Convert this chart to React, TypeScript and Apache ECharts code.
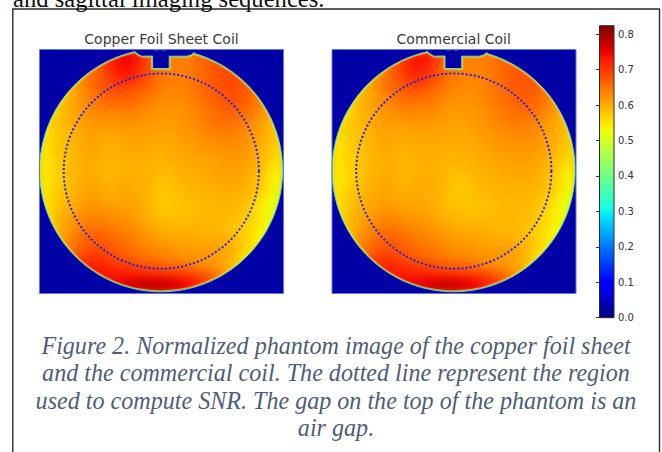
import React, { useEffect, useRef } from "react";
import * as echarts from "echarts";

// ---------- data ----------
const titles = ["Copper Foil Sheet Coil", "Commercial Coil"];
const captionLines = [
  "Figure 2. Normalized phantom image of the copper foil sheet",
  "and the commercial coil. The dotted line represent the region",
  "used to compute SNR. The gap on the top of the phantom is an",
  "air gap.",
];
const headerText = "and sagittal imaging sequences.";
const colorbarTicks = [0, 0.1, 0.2, 0.3, 0.4, 0.5, 0.6, 0.7, 0.8];
const colorbarMax = 0.8237;

// normalized signal, thousandths, rows from top, only the cells touching the phantom
const leftRows = [
  [700,730,750,740,700,660,640,640,640,640,650,660,670],
  [660,690,720,740,750,730,700,670,650,640,640,640,650,660,670,680,680],
  [600,630,655,680,710,730,735,720,695,670,650,640,640,640,650,660,670,680,685,680,670],
  [590,610,635,660,680,700,715,720,705,685,665,645,640,640,640,650,660,670,680,685,685,675,660],
  [580,595,615,640,660,675,685,690,690,680,670,655,640,635,635,640,650,660,670,680,685,685,675,660,640],
  [570,590,610,630,645,660,670,675,670,665,655,645,635,630,630,635,645,655,665,675,680,680,670,655,635],
  [560,580,600,615,630,640,650,655,655,655,650,640,630,625,625,625,630,640,650,660,670,675,675,665,650,630,610],
  [555,575,595,610,620,630,635,635,635,635,635,630,625,620,620,620,625,630,640,650,660,665,665,655,640,625,605],
  [550,570,585,595,605,615,620,620,620,625,625,625,620,615,615,615,620,625,630,640,650,655,655,650,640,625,610,595,575],
  [550,565,580,590,600,610,615,610,610,615,615,615,615,610,610,610,615,620,625,630,640,645,645,640,630,620,605,590,570],
  [545,565,580,590,595,605,610,605,600,605,610,610,610,605,605,605,610,615,620,625,630,635,635,630,625,615,600,585,565],
  [545,565,580,585,595,605,605,600,595,600,605,605,605,600,600,600,605,610,615,620,620,625,625,625,620,610,595,580,560],
  [545,565,575,585,595,600,605,595,590,595,600,600,600,600,595,600,600,605,610,610,615,615,620,620,615,605,590,575,555],
  [540,560,575,585,595,600,600,595,590,595,595,600,595,595,590,595,600,600,605,605,610,610,615,615,610,600,585,565,545],
  [540,560,575,585,590,600,600,595,590,595,595,595,595,590,585,590,595,595,600,600,605,610,610,610,605,595,580,555,535],
  [540,560,575,585,595,600,605,595,590,595,600,600,595,590,580,585,590,595,595,600,600,605,605,605,600,590,570,545,525],
  [540,560,575,585,595,605,610,600,595,600,600,600,595,585,575,580,585,590,595,595,595,600,600,600,595,585,570,550,525],
  [545,565,580,590,600,610,615,605,600,605,605,600,595,585,575,575,580,585,590,590,590,595,595,590,590,575,555,530,510],
  [545,565,585,595,605,615,620,615,610,610,610,605,595,585,575,575,580,585,585,590,590,590,590,590,580,565,545,520,505],
  [545,570,590,605,615,625,630,625,620,620,615,610,600,590,580,580,580,585,585,590,590,590,590,585,575,560,540,520,505],
  [550,575,600,615,625,640,645,640,630,630,625,615,605,595,590,585,585,585,590,590,590,590,585,580,575,560,545,525,510],
  [570,595,615,635,650,655,655,650,640,635,625,615,605,600,595,595,595,595,590,590,590,585,575,565,550,530,515],
  [585,610,630,650,665,670,670,660,650,645,635,625,620,610,605,605,605,600,600,600,595,590,580,570,550,535,520],
  [610,635,655,670,680,680,675,665,655,645,635,630,625,620,615,610,610,610,610,605,600,590,565,545,530],
  [630,655,680,695,700,695,685,675,665,655,650,640,635,630,625,620,620,620,615,610,600,580,555,540,530],
  [675,700,715,720,715,705,695,690,680,675,670,665,655,650,640,630,620,615,610,595,575,555,545],
  [715,730,735,730,725,720,720,715,710,705,700,695,690,685,675,665,650,630,605,580,560],
  [730,740,745,745,750,755,760,760,760,755,745,735,720,700,680,650,620],
  [750,760,770,775,780,780,775,770,760,745,725,700,680],
];
const rightRows = [
  [690,715,735,730,695,660,640,635,635,635,640,650,660],
  [650,680,705,725,735,720,695,665,645,635,635,635,640,650,660,665,665],
  [590,620,645,670,700,720,725,710,685,660,645,635,635,635,640,650,660,670,675,670,660],
  [585,600,625,650,670,690,705,710,695,675,655,640,635,635,635,640,650,660,670,675,675,665,650],
  [575,590,605,630,655,665,675,685,685,675,660,645,635,630,630,635,640,650,660,670,675,675,665,650,630],
  [565,585,600,620,635,650,660,665,660,655,645,635,630,625,625,630,635,645,655,665,670,670,660,645,625],
  [555,575,595,610,620,630,640,645,645,645,640,635,625,620,620,620,625,635,645,650,660,665,665,655,640,625,600],
  [550,570,590,600,610,620,625,630,630,630,630,625,620,615,615,615,620,625,635,640,650,655,655,645,630,615,600],
  [550,565,580,590,600,610,615,615,615,620,620,620,615,610,610,610,615,620,625,635,640,645,645,640,630,620,605,590,575],
  [550,565,575,585,595,605,610,610,605,610,610,610,610,610,605,605,610,615,620,625,630,635,635,635,625,615,600,590,570],
  [545,565,575,585,590,600,605,605,600,605,605,605,605,605,600,600,605,610,615,620,625,625,630,630,620,610,600,585,565],
  [545,560,575,585,590,600,605,600,595,600,600,600,600,600,600,600,600,605,610,615,615,620,620,620,615,605,595,580,565],
  [540,560,570,580,590,595,600,595,590,595,600,600,600,595,595,595,600,600,605,610,610,615,615,615,610,600,590,575,555],
  [540,560,570,580,590,595,600,595,590,595,595,600,595,595,590,590,595,600,600,605,605,610,610,610,605,595,580,565,545],
  [540,555,570,580,590,595,600,595,590,595,595,595,595,590,585,585,590,595,595,600,600,605,605,605,600,590,575,555,535],
  [535,555,570,580,590,600,605,595,590,595,600,600,595,590,580,580,585,590,595,595,600,600,600,600,595,585,570,545,525],
  [540,560,575,585,595,600,605,600,595,600,600,600,595,585,575,575,580,590,590,595,595,595,595,595,590,585,570,550,525],
  [545,565,580,590,600,605,610,605,600,600,600,600,595,585,580,575,580,585,585,590,590,590,590,590,585,575,555,530,510],
  [545,565,585,595,605,610,615,610,605,605,605,600,595,590,580,580,580,580,585,585,590,590,590,585,580,565,545,520,505],
  [550,570,590,600,610,620,625,620,615,615,610,605,600,590,585,585,585,585,585,590,590,590,585,585,575,560,540,520,510],
  [555,575,595,610,620,630,640,635,625,625,620,615,605,600,595,590,590,590,590,590,590,590,585,580,575,560,545,525,510],
  [565,590,615,630,645,650,650,645,635,630,625,615,610,605,600,600,600,595,590,590,590,585,575,565,550,530,515],
  [585,610,630,645,660,665,665,655,650,640,635,630,620,615,610,610,605,600,600,600,595,590,580,570,550,535,520],
  [605,630,650,665,675,675,670,660,650,645,640,630,625,620,620,615,610,610,610,605,600,590,565,545,530],
  [625,650,675,690,695,690,680,670,665,655,650,640,635,630,625,620,620,620,615,610,600,580,555,540,530],
  [670,695,710,715,710,700,695,685,680,670,665,660,655,650,640,630,620,615,610,595,575,555,545],
  [710,725,730,725,720,715,715,710,705,700,695,690,685,680,670,655,645,625,605,580,560],
  [725,735,740,740,745,750,755,755,755,750,740,730,715,700,675,645,620],
  [745,755,765,770,775,775,770,765,755,740,725,700,680],
];

// phantom outline and ROI in image pixels: [cx, cy, r]
const imageSize = 244;
const phantomCircle = [121.6, 120.8, 121.5];
const roiCircle = [121.8, 121.6, 97.6];
// air gap outline, from the left shoulder to the right one
const notchOutline = [
  [94.7, 1.7], [99, 5], [102.3, 6.7], [113, 6.5], [113, 19], [129.7, 19],
  [129.7, 6.7], [147.3, 6.7], [151.5, 5.5], [154.7, 3],
];
const topSpeck = [[115, 0.4], [129, 0.4]];

// matplotlib "jet"
const jetStops: [number, string][] = [
  [0, "#000080"], [0.11, "#0000ff"], [0.125, "#0000ff"], [0.34, "#00dbff"],
  [0.35, "#00e6f7"], [0.375, "#14ffe2"], [0.64, "#eeff08"], [0.65, "#f7f500"],
  [0.66, "#ffec00"], [0.89, "#ff1300"], [0.91, "#e80000"], [1, "#800000"],
];

// ---------- helpers ----------
const outlineShape = {
  shape: { cx: 0, cy: 0, r: 0, pts: [] as number[][], box: null as number[] | null },
  buildPath(ctx: any, s: any) {
    if (s.box) {
      const [x0, y0, x1, y1] = s.box;
      ctx.moveTo(x0, y0);
      ctx.lineTo(x0, y1);
      ctx.lineTo(x1, y1);
      ctx.lineTo(x1, y0);
      ctx.closePath();
    }
    const pts = s.pts;
    if (!pts.length) return;
    const last = pts[pts.length - 1];
    const first = pts[0];
    const a1 = Math.atan2(last[1] - s.cy, last[0] - s.cx);
    let a2 = Math.atan2(first[1] - s.cy, first[0] - s.cx);
    if (a2 < a1) a2 += Math.PI * 2;
    ctx.moveTo(s.cx + s.r * Math.cos(a1), s.cy + s.r * Math.sin(a1));
    ctx.arc(s.cx, s.cy, s.r, a1, a2, false);
    for (const p of pts) ctx.lineTo(p[0], p[1]);
    ctx.closePath();
  },
};
echarts.graphic.registerShape("phantomOutline", echarts.graphic.extendShape(outlineShape));

function hexToRgb(h: string) {
  return [1, 3, 5].map((i) => parseInt(h.slice(i, i + 2), 16));
}
function sampleJet(n: number) {
  const out: string[] = [];
  for (let i = 0; i < n; i++) {
    const t = i / (n - 1);
    let k = 0;
    while (k < jetStops.length - 2 && t > jetStops[k + 1][0]) k++;
    const [p0, c0] = jetStops[k];
    const [p1, c1] = jetStops[k + 1];
    const f = (t - p0) / (p1 - p0);
    const a = hexToRgb(c0);
    const b = hexToRgb(c1);
    out.push(`rgb(${a.map((v, j) => Math.round(v + (b[j] - v) * f)).join(",")})`);
  }
  return out;
}

function cells(rows: number[][]) {
  const n = rows.length;
  const out: number[][] = [];
  rows.forEach((row, y) => {
    const pad = Math.floor((n - row.length) / 2);
    for (let x = 0; x < n; x++) {
      const k = Math.max(0, Math.min(row.length - 1, x - pad));
      out.push([x, y, row[k] / 1000]);
    }
  });
  return out;
}

function overlayRender(_: any, api: any) {
  const c = (x: number, y: number) => api.coord([x, y]);
  const [bx0, by0] = c(0, 0);
  const [bx1, by1] = c(imageSize, imageSize);
  const k = (bx1 - bx0) / imageSize;
  const center = c(api.value(0), api.value(1));
  const pts = notchOutline.map((p) => c(p[0], p[1]));
  const shape = { cx: center[0], cy: center[1], r: api.value(2) * k, pts };
  const roi = c(roiCircle[0], roiCircle[1]);
  const s0 = c(topSpeck[0][0], topSpeck[0][1]);
  const s1 = c(topSpeck[1][0], topSpeck[1][1]);
  return {
    type: "group",
    children: [
      { type: "phantomOutline", shape, style: { fill: "none", stroke: "#e8f020", lineWidth: 3.2, opacity: 0.6 } },
      { type: "phantomOutline", shape: { ...shape, box: [bx0, by0, bx1, by1] }, style: { fill: "#0000a4", stroke: "none" } },
      { type: "phantomOutline", shape, style: { fill: "none", stroke: "#48dce0", lineWidth: 1 } },
      { type: "line", shape: { x1: s0[0], y1: s0[1], x2: s1[0], y2: s1[1] }, style: { stroke: "#5cc8f8", lineWidth: 1, lineDash: [4, 3] } },
      { type: "rect", shape: { x: bx0, y: by0, width: bx1 - bx0, height: by1 - by0 }, style: { fill: "none", stroke: "#6078e4", lineWidth: 1 } },
      { type: "circle", shape: { cx: roi[0], cy: roi[1], r: roiCircle[2] * k }, style: { fill: "none", stroke: "#2020f0", lineWidth: 2, lineDash: [2, 2.1] } },
    ],
  };
}

function colorbarRender(_: any, api: any) {
  const a = api.coord([api.value(0), api.value(1)]);
  const b = api.coord([api.value(2), api.value(3)]);
  return {
    type: "rect",
    shape: { x: a[0], y: b[1], width: b[0] - a[0], height: a[1] - b[1] },
    style: {
      fill: new echarts.graphic.LinearGradient(0, 1, 0, 0, jetStops.map(([offset, color]) => ({ offset, color }))),
      stroke: "#2a2a2a",
      lineWidth: 1,
    },
  };
}

const PANEL_LEFTS = [39.5, 332];
const PANEL_TOP = 49.5;
const hidden = { show: false };

export default function App() {
  const fieldRef = useRef<HTMLDivElement>(null);
  const topRef = useRef<HTMLDivElement>(null);
  useEffect(() => {
    document.body.style.margin = "0";
    const field = echarts.init(fieldRef.current!, null, { renderer: "svg" });
    const chart = echarts.init(topRef.current!, null, { renderer: "svg" });
    const cats = leftRows.map((_, i) => String(i));
    const centers = [161.5, 453.7];
    field.setOption({
      animation: false,
      backgroundColor: "#ffa000",
      visualMap: {
        show: false,
        type: "continuous",
        min: 0,
        max: colorbarMax,
        seriesIndex: [0, 1],
        inRange: { color: sampleJet(129) },
      },
      grid: PANEL_LEFTS.map((left) => ({ left, top: PANEL_TOP, width: imageSize, height: imageSize })),
      xAxis: [0, 1].map((gridIndex) => ({ type: "category", gridIndex, data: cats, ...hidden })),
      yAxis: [0, 1].map((gridIndex) => ({ type: "category", gridIndex, data: cats, inverse: true, ...hidden })),
      series: [leftRows, rightRows].map((rows, i) => ({
        type: "heatmap",
        xAxisIndex: i,
        yAxisIndex: i,
        data: cells(rows),
        itemStyle: { borderWidth: 0 },
        silent: true,
      })),
    } as any);

    const option: any = {
      animation: false,
      backgroundColor: "transparent",
      grid: [
        { left: PANEL_LEFTS[0], top: PANEL_TOP, width: imageSize, height: imageSize },
        { left: PANEL_LEFTS[1], top: PANEL_TOP, width: imageSize, height: imageSize },
        { left: 599.5, top: 25.7, width: 14.5, height: 292 },
      ],
      xAxis: [
        { type: "value", gridIndex: 0, min: 0, max: imageSize, ...hidden },
        { type: "value", gridIndex: 1, min: 0, max: imageSize, ...hidden },
        { type: "value", gridIndex: 2, min: 0, max: 1, ...hidden },
      ],
      yAxis: [
        { type: "value", gridIndex: 0, min: 0, max: imageSize, inverse: true, ...hidden },
        { type: "value", gridIndex: 1, min: 0, max: imageSize, inverse: true, ...hidden },
        {
          type: "value",
          gridIndex: 2,
          min: 0,
          max: colorbarMax,
          position: "right",
          splitLine: { show: false },
          axisLine: { show: false },
          axisTick: { show: true, inside: true, length: 3.5, customValues: colorbarTicks, lineStyle: { color: "#333333", width: 1 } },
          axisLabel: {
            show: true,
            margin: 4,
            customValues: colorbarTicks,
            formatter: (v: number) => v.toFixed(1),
            fontFamily: "DejaVu Sans",
            fontSize: 10,
            color: "#333333",
          },
          z: 10,
        },
      ],
      series: [
        { type: "custom", xAxisIndex: 0, yAxisIndex: 0, silent: true, renderItem: overlayRender, data: [phantomCircle] },
        { type: "custom", xAxisIndex: 1, yAxisIndex: 1, silent: true, renderItem: overlayRender, data: [phantomCircle] },
        { type: "custom", xAxisIndex: 2, yAxisIndex: 2, silent: true, renderItem: colorbarRender, data: [[0, 0, 1, colorbarMax]] },
      ],
      graphic: [
        {
          type: "polyline",
          shape: { points: [[12.8, 460], [12.8, 9], [659.5, 9], [659.5, 460]] },
          style: { fill: "none", stroke: "#2b2b2b", lineWidth: 1.4 },
          silent: true,
        },
        {
          type: "text",
          x: 13,
          y: 10.5,
          style: {
            text: headerText,
            font: "24.6px 'Liberation Serif'",
            fill: "#111111",
            align: "left",
            verticalAlign: "bottom",
          },
        },
        ...titles.map((t, i) => ({
          type: "text",
          x: centers[i],
          y: 39,
          style: {
            text: t,
            font: "14px 'DejaVu Sans'",
            fill: "#3a3a3a",
            align: "center",
            verticalAlign: "middle",
          },
        })),
        ...captionLines.map((t, i) => ({
          type: "text",
          x: 336,
          y: 345 + i * 27.5,
          scaleX: 0.92,
          style: {
            text: t,
            font: "italic 26.2px 'Liberation Serif'",
            fill: "#4d5d78",
            align: "center",
            verticalAlign: "middle",
          },
        })),
      ],
    };
    chart.setOption(option);
    return () => {
      chart.dispose();
      field.dispose();
    };
  }, []);
  return (
    <div style={{ position: "relative", width: 662, height: 452, overflow: "hidden", background: "#ffffff" }}>
      <div
        style={{
          position: "absolute",
          left: 0,
          top: 0,
          width: 662,
          height: 452,
          clipPath: "path('M39.5 49.5h244v244h-244z M332 49.5h244v244h-244z')",
        }}
      >
        <div ref={fieldRef} style={{ width: 662, height: 452, filter: "blur(4px)" }} />
      </div>
      <div ref={topRef} style={{ position: "absolute", left: 0, top: 0, width: 662, height: 452 }} />
    </div>
  );
}
